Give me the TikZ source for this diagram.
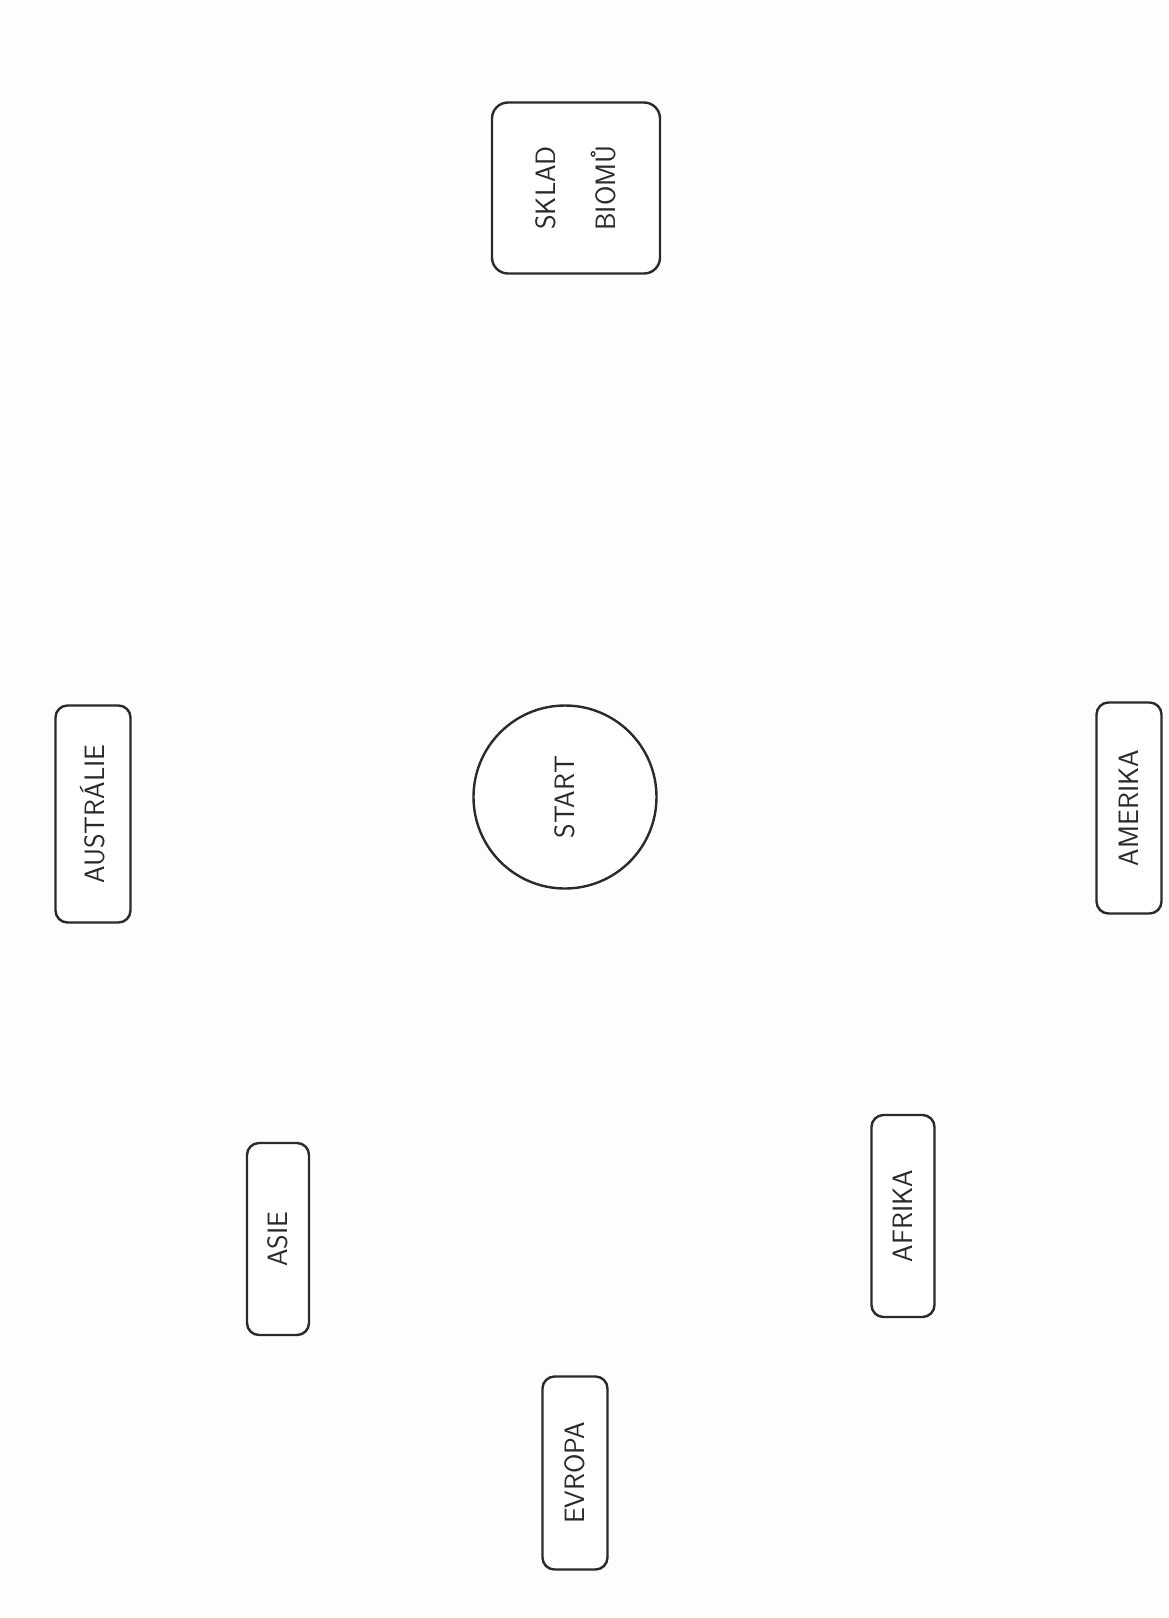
\documentclass[tikz,border=0pt]{standalone}
\usepackage{fontspec}
\usepackage{xcolor}
\definecolor{inkdark}{HTML}{2A2A2A}
\definecolor{paper}{HTML}{FDFDFD}
\usepackage{tikz}
\tikzset{
  cbox/.style ={rectangle, rounded corners=12pt, draw=inkdark, line width=2.4pt, fill=white,
                text=inkdark, align=center, inner sep=4pt, rotate=90, font=\sffamily\fontsize{28}{33}\selectfont},
  sbox/.style ={cbox, rounded corners=16pt, font=\sffamily\fontsize{28}{60}\selectfont},
  startc/.style={circle, draw=inkdark, line width=2.4pt, fill=white, text=inkdark, inner sep=0pt,
                 minimum size=183pt, font=\sffamily\fontsize{28}{33}\selectfont},
}

\begin{document}
\begin{tikzpicture}[x=1pt, y=-1pt]
  \useasboundingbox[fill=paper] (0,0) rectangle (1169,1618);
  % sklad
  \node[sbox, minimum width=171pt, minimum height=168pt] (sklad) at (576,188) {SKLAD\\BIOMŮ};
  % start uprostred
  \node[startc] (start) at (565,797) {\rotatebox{90}{START}};
  % kontinenty
  \node[cbox, minimum width=217pt, minimum height=75pt] (austr) at (93,814) {AUSTRÁLIE};
  \node[cbox, minimum width=211pt, minimum height=65pt] (amer) at (1129,808) {AMERIKA};
  \node[cbox, minimum width=192pt, minimum height=62pt] (asie) at (278,1239) {ASIE};
  \node[cbox, minimum width=202pt, minimum height=63pt] (afr) at (903,1216) {AFRIKA};
  \node[cbox, minimum width=193pt, minimum height=65pt] (evr) at (575,1473) {EVROPA};
\end{tikzpicture}
\end{document}
